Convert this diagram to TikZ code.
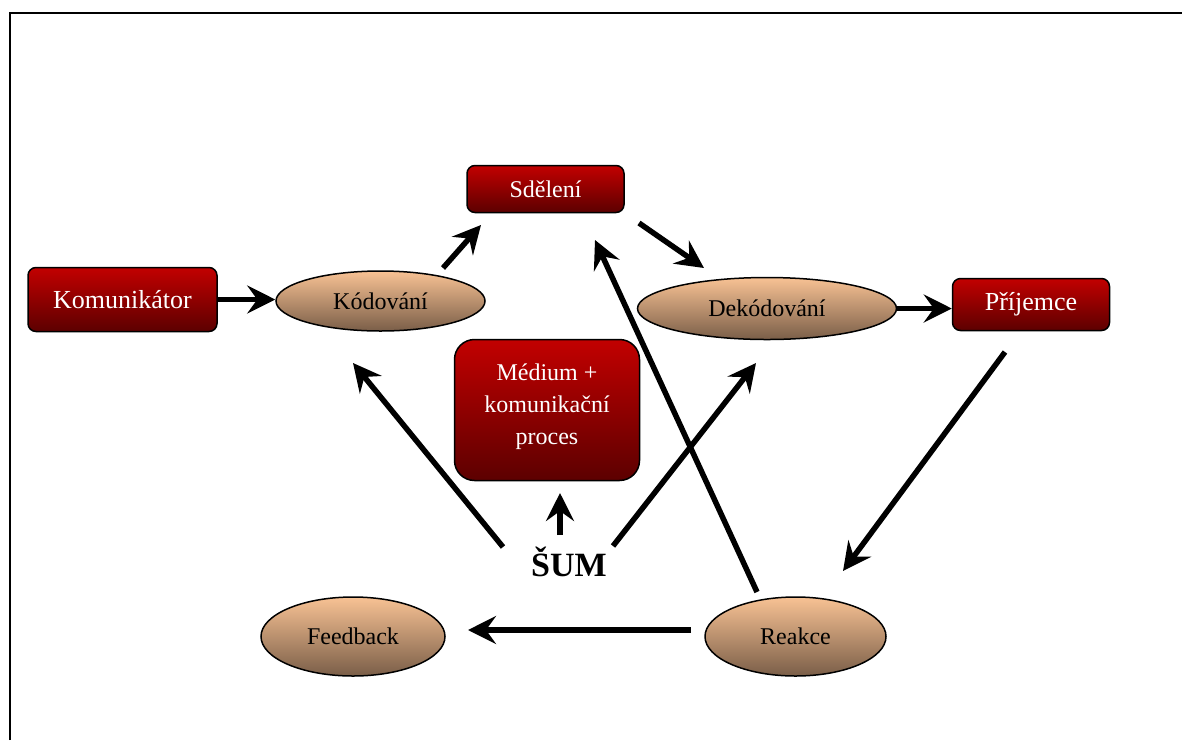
\documentclass[tikz,border=0pt]{standalone}
\usepackage{fontspec}
\setmainfont{Liberation Serif}
\usetikzlibrary{shapes.geometric,arrows.meta}
\definecolor{boxtop}{RGB}{194,0,0}
\definecolor{boxbot}{RGB}{92,0,0}
\definecolor{elltop}{RGB}{248,194,148}
\definecolor{ellbot}{RGB}{122,94,72}
\begin{document}
\begin{tikzpicture}[x=1pt,y=-1pt,
  redbox/.style={draw=black, line width=1.5pt, rounded corners=8pt, top color=boxtop, bottom color=boxbot, text=white, font=\fontsize{26}{30}\selectfont, inner sep=0pt},
  peach/.style={ellipse, draw=black, line width=1.5pt, top color=elltop, bottom color=ellbot, text=black, inner sep=0pt, font=\fontsize{24}{28}\selectfont},
  arr/.style={line width=5.5pt, -{Stealth[length=28pt,width=28pt,inset=10pt]}}]
\useasboundingbox (0,0) rectangle (1182,740);
\draw[line width=2pt] (9.5,740) -- (9.5,12.5) -- (1182,12.5);

\node[redbox, minimum width=189pt, minimum height=64pt] (kom) at (122.5,299.5) {Komunikátor};
\node[peach, minimum width=209pt, minimum height=60pt] (kod) at (380.5,301) {Kódování};
\node[redbox, minimum width=157pt, minimum height=47pt, font=\fontsize{24}{28}\selectfont] (sd) at (545.5,189) {Sdělení};
\node[peach, minimum width=259pt, minimum height=62pt] (dek) at (767,308.5) {Dekódování};
\node[redbox, minimum width=157pt, minimum height=52pt] (pri) at (1031,304.5) {Příjemce};
\node[redbox, rounded corners=20pt, minimum width=185pt, minimum height=141pt, align=center, text depth=12pt, font=\fontsize{24}{32}\selectfont] (med) at (547,410) {Médium +\\komunikační\\proces};
\node[anchor=base, inner sep=0pt, font=\fontsize{34}{40}\selectfont\bfseries] (sum) at (569,576) {ŠUM};
\node[peach, minimum width=184pt, minimum height=79pt] (fb) at (353,636.5) {Feedback};
\node[peach, minimum width=181pt, minimum height=79pt] (rea) at (795.5,636.5) {Reakce};

\draw[arr] (kom.east) -- (kom.east -| kod.west);
\draw[arr] ([shift={(62.5,-33)}]kod.center) -- ([shift={(-64.5,36)}]sd.center);
\draw[arr] ([shift={(93.5,34)}]sd.center) -- ([shift={(-63,-40.5)}]dek.center);
\draw[arr] (dek.east) -- (dek.east -| pri.west);
\draw[arr] ([shift={(-26,47.5)}]pri.center) -- ([shift={(47.5,-65.5)}]rea.center);
\draw[arr] ([shift={(-104.5,-6.5)}]rea.center) -- ([shift={(115,-6.5)}]fb.center);
\draw[arr] ([shift={(-38.5,-44.5)}]rea.center) -- ([shift={(49.5,51)}]sd.center);
\draw[arr] ([shift={(-66,-29)}]sum.base) -- ([shift={(-27.5,62)}]kod.center);
\draw[arr] ([shift={(44,-30)}]sum.base) -- ([shift={(-11,54.5)}]dek.center);
\draw[arr] ([shift={(-9,-41)}]sum.base) -- ([shift={(13,83)}]med.center);
\end{tikzpicture}
\end{document}
